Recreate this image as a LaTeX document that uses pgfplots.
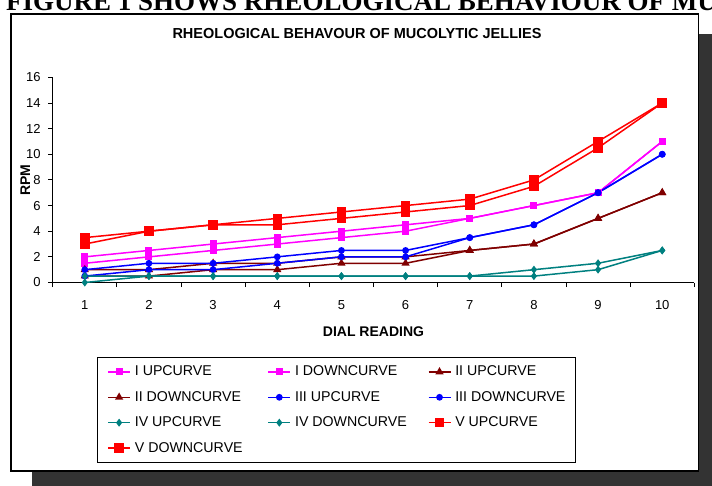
\documentclass[border=0pt]{standalone}
\usepackage{fontspec}
\setmainfont{Liberation Sans}
\newfontfamily\figfont{Liberation Serif}
\usepackage{pgfplots}
\pgfplotsset{compat=1.18}
\definecolor{cI}{RGB}{255,0,255}
\definecolor{cII}{RGB}{128,0,0}
\definecolor{cIII}{RGB}{0,0,255}
\definecolor{cIV}{RGB}{0,128,128}
\definecolor{cV}{RGB}{255,0,0}
\definecolor{shadowgray}{RGB}{51,51,51}
\begin{document}
\begin{tikzpicture}[x=1bp,y=1bp]
\path[use as bounding box] (0,0) rectangle (712,-486);
\node[anchor=base west, inner sep=0pt, font={\figfont\bfseries\fontsize{27bp}{31bp}\selectfont}] at (6,-10.5) {FIGURE 1 SHOWS RHEOLOGICAL BEHAVIOUR OF MUCOLYTIC JELLIES};
\fill[shadowgray] (32,-34) rectangle (712,-486);
\draw[fill=white, line width=1.6bp] (11,-14) rectangle (698.5,-471);
\node[font={\bfseries\fontsize{14.5bp}{17bp}\selectfont}] at (357,-34) {RHEOLOGICAL BEHAVOUR OF MUCOLYTIC JELLIES};
\begin{axis}[
  at={(52.7bp,-282.5bp)}, anchor=south west,
  scale only axis, width=641.6bp, height=205.2bp,
  xmin=0.5, xmax=10.5, ymin=0, ymax=16,
  axis lines*=left,
  axis line style={black, line width=0.9bp},
  xtick={1,...,10}, ytick={0,2,...,16},
  minor xtick={0.5,1.5,...,10.5}, minor ytick={0,2,...,16},
  major tick length=0pt, minor tick length=4.5bp,
  tick align=outside,
  minor tick style={black, line width=0.9bp},
  /pgf/number format/assume math mode=true,
  ticklabel style={font={\fontsize{13bp}{15bp}\selectfont}, inner sep=0pt},
  xticklabel style={anchor=north, yshift=-18bp},
  yticklabel style={anchor=east, xshift=-12bp},
  xlabel={DIAL READING}, ylabel={RPM},
  every axis x label/.style={at={(axis description cs:0.5,-0.24)}, anchor=center, font={\bfseries\fontsize{14bp}{16bp}\selectfont}},
  every axis y label/.style={at={(axis description cs:-0.0427,0.5)}, rotate=90, anchor=center, font={\bfseries\fontsize{14bp}{16bp}\selectfont}},
  legend columns=3,
  legend style={at={(axis description cs:0.069,-0.363)}, anchor=north west, draw=black, line width=0.8bp,
    font={\fontsize{14.2bp}{17bp}\selectfont}, inner xsep=10bp, inner ysep=8bp, row sep=12.4bp,
    cells={anchor=west},
    nodes={inner sep=0pt, text height=10.5bp, text depth=2.5bp},
    /tikz/every odd column/.append style={column sep=4bp}},
  legend image code/.code={\draw[mark repeat=2,mark phase=2] plot coordinates {(0bp,0bp)(11bp,0bp)(22bp,0bp)};},
]
\addplot[cI, line width=1.5bp, mark=square*, mark size=2.8bp] coordinates {(1,2)(2,2.5)(3,3)(4,3.5)(5,4)(6,4.5)(7,5)(8,6)(9,7)(10,11)};
\addlegendentry{\makebox[132.7bp][l]{I UPCURVE}}
\addplot[cI, line width=1.5bp, mark=square*, mark size=2.8bp] coordinates {(1,1.5)(2,2)(3,2.5)(4,3)(5,3.5)(6,4)(7,5)(8,6)(9,7)(10,11)};
\addlegendentry{\makebox[132.7bp][l]{I DOWNCURVE}}
\addplot[cII, line width=1.5bp, mark=triangle*, mark size=3.3bp] coordinates {(1,1)(2,1)(3,1.5)(4,1.5)(5,2)(6,2)(7,2.5)(8,3)(9,5)(10,7)};
\addlegendentry{II UPCURVE}
\addplot[cII, line width=1.5bp, mark=triangle*, mark size=3.3bp] coordinates {(1,0.5)(2,0.5)(3,1)(4,1)(5,1.5)(6,1.5)(7,2.5)(8,3)(9,5)(10,7)};
\addlegendentry{\makebox[132.7bp][l]{II DOWNCURVE}}
\addplot[cIII, line width=1.5bp, mark=*, mark size=2.6bp] coordinates {(1,1)(2,1.5)(3,1.5)(4,2)(5,2.5)(6,2.5)(7,3.5)(8,4.5)(9,7)(10,10)};
\addlegendentry{\makebox[132.7bp][l]{III UPCURVE}}
\addplot[cIII, line width=1.5bp, mark=*, mark size=2.6bp] coordinates {(1,0.5)(2,1)(3,1)(4,1.5)(5,2)(6,2)(7,3.5)(8,4.5)(9,7)(10,10)};
\addlegendentry{III DOWNCURVE}
\addplot[cIV, line width=1.5bp, mark=diamond*, mark size=2.8bp] coordinates {(1,0.5)(2,0.5)(3,0.5)(4,0.5)(5,0.5)(6,0.5)(7,0.5)(8,1)(9,1.5)(10,2.5)};
\addlegendentry{\makebox[132.7bp][l]{IV UPCURVE}}
\addplot[cIV, line width=1.5bp, mark=diamond*, mark size=2.8bp] coordinates {(1,0)(2,0.5)(3,0.5)(4,0.5)(5,0.5)(6,0.5)(7,0.5)(8,0.5)(9,1)(10,2.5)};
\addlegendentry{\makebox[132.7bp][l]{IV DOWNCURVE}}
\addplot[cV, line width=1.5bp, mark=square*, mark size=4bp] coordinates {(1,3.5)(2,4)(3,4.5)(4,5)(5,5.5)(6,6)(7,6.5)(8,8)(9,11)(10,14)};
\addlegendentry{V UPCURVE}
\addplot[cV, line width=1.5bp, mark=square*, mark size=4bp] coordinates {(1,3)(2,4)(3,4.5)(4,4.5)(5,5)(6,5.5)(7,6)(8,7.5)(9,10.5)(10,14)};
\addlegendentry{\makebox[132.7bp][l]{V DOWNCURVE}}
\end{axis}
\end{tikzpicture}
\end{document}
